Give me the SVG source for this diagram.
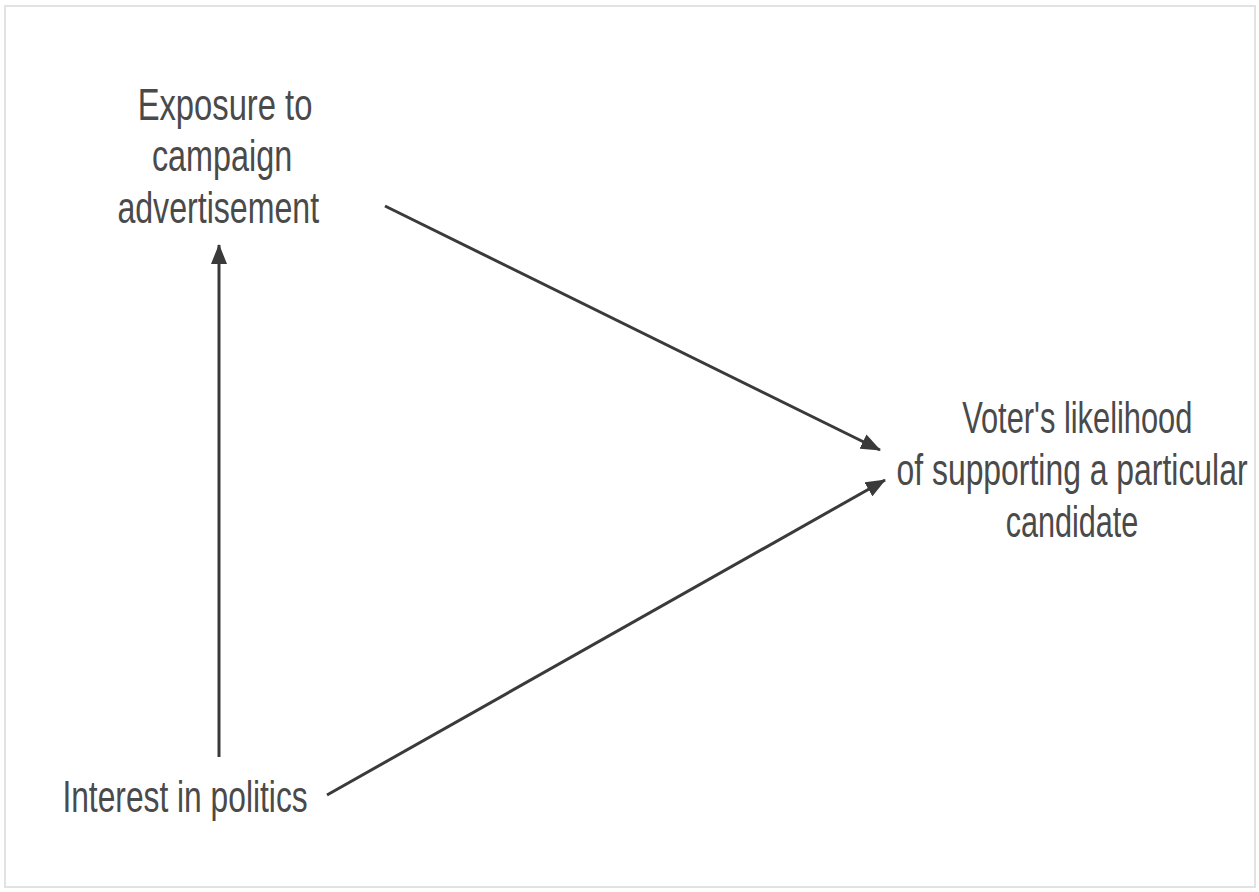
<svg xmlns="http://www.w3.org/2000/svg" width="1259" height="892" viewBox="0 0 1259 892">
<style>
.t{font-family:"Liberation Sans",Arial,sans-serif;font-size:44px;fill:#4a4a4a;text-anchor:middle;}
.c{stroke:#3a3a3a;stroke-width:3;fill:none;}
</style>
<defs>
<marker id="a" viewBox="0 0 20 16" refX="19" refY="8" markerWidth="20" markerHeight="16" markerUnits="userSpaceOnUse" orient="auto">
<path d="M0,0 L20,8 L0,16 z" fill="#3a3a3a"/>
</marker>
</defs>
<rect x="0" y="0" width="1259" height="892" fill="#ffffff"/>
<rect x="5" y="6" width="1250" height="881" fill="none" stroke="#e2e2e2" stroke-width="2"/>
<g id="connectors">
<line class="c" x1="219" y1="757" x2="219" y2="245" marker-end="url(#a)"/>
<line class="c" x1="385" y1="206" x2="880" y2="450" marker-end="url(#a)"/>
<line class="c" x1="327" y1="795" x2="885" y2="480" marker-end="url(#a)"/>
</g>
<g id="node-exposure" transform="translate(225,0) scale(0.75,1)">
<text class="t" x="0" y="120" textLength="233" lengthAdjust="spacingAndGlyphs">Exposure to</text>
<text class="t" x="-4" y="171" textLength="187" lengthAdjust="spacingAndGlyphs">campaign</text>
<text class="t" x="-9" y="223" textLength="269" lengthAdjust="spacingAndGlyphs">advertisement</text>
</g>
<g id="node-voter" transform="translate(1072,0) scale(0.75,1)">
<text class="t" x="7" y="433" textLength="307" lengthAdjust="spacingAndGlyphs">Voter's likelihood</text>
<text class="t" x="0" y="485" textLength="468" lengthAdjust="spacingAndGlyphs">of supporting a particular</text>
<text class="t" x="0" y="537" textLength="177" lengthAdjust="spacingAndGlyphs">candidate</text>
</g>
<g id="node-interest" transform="translate(185,0) scale(0.75,1)">
<text class="t" x="0" y="812" textLength="327" lengthAdjust="spacingAndGlyphs">Interest in politics</text>
</g>
</svg>
